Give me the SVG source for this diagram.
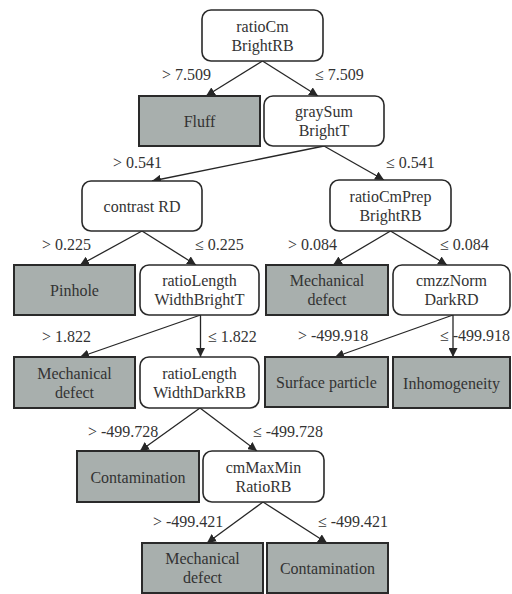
<svg xmlns="http://www.w3.org/2000/svg" width="512" height="594" viewBox="0 0 512 594">
  <defs>
    <marker id="arrow" viewBox="0 0 10 10" refX="10" refY="5" markerWidth="9" markerHeight="9" markerUnits="userSpaceOnUse" orient="auto">
      <path d="M0,0 L10,5 L0,10 z" fill="#262626"/>
    </marker>
    <style>
      .split rect { fill: #ffffff; stroke: #2a2a2a; stroke-width: 1.6; }
      .leaf rect { fill: #a8afad; stroke: #2a2a2a; stroke-width: 2; }
      text { font-family: "Times New Roman", Times, "Liberation Serif", "Nimbus Roman", "FreeSerif", "Noto Serif", "DejaVu Serif", serif; font-size: 16px; fill: #333333; }
      .node text { text-anchor: middle; }
      .end { text-anchor: end; }
      #connectors line { stroke: #262626; stroke-width: 1.3; marker-end: url(#arrow); }
    </style>
  </defs>
  <rect width="512" height="594" fill="#ffffff"/>

  <g id="connectors">
    <line x1="262.5" y1="61" x2="206" y2="96"/>
    <line x1="262.5" y1="61" x2="318" y2="96"/>
    <line x1="324" y1="146" x2="152" y2="181"/>
    <line x1="324" y1="146" x2="384" y2="180"/>
    <line x1="142" y1="231" x2="80" y2="265"/>
    <line x1="142" y1="231" x2="196" y2="265"/>
    <line x1="390.5" y1="231" x2="333" y2="265"/>
    <line x1="390.5" y1="231" x2="447" y2="265"/>
    <line x1="200.5" y1="315" x2="80" y2="357"/>
    <line x1="200.5" y1="315" x2="200.5" y2="357"/>
    <line x1="453" y1="315" x2="335" y2="357"/>
    <line x1="453" y1="315" x2="453" y2="357"/>
    <line x1="200" y1="408" x2="140" y2="451"/>
    <line x1="200" y1="408" x2="257" y2="451"/>
    <line x1="263" y1="502" x2="207" y2="543"/>
    <line x1="263" y1="502" x2="327" y2="543"/>
  </g>

  <g id="edge-labels">
    <text x="162" y="80">&gt; 7.509</text>
    <text x="315" y="80">≤ 7.509</text>
    <text x="113" y="168">&gt; 0.541</text>
    <text x="386" y="168">≤ 0.541</text>
    <text x="42" y="250">&gt; 0.225</text>
    <text x="195" y="250">≤ 0.225</text>
    <text x="288" y="250">&gt; 0.084</text>
    <text x="440" y="250">≤ 0.084</text>
    <text x="42" y="342">&gt; 1.822</text>
    <text x="208" y="342">≤ 1.822</text>
    <text x="298" y="341">&gt; -499.918</text>
    <text class="end" x="510" y="341">≤ -499.918</text>
    <text x="88" y="437">&gt; -499.728</text>
    <text x="253" y="437">≤ -499.728</text>
    <text x="153" y="527">&gt; -499.421</text>
    <text x="318" y="527">≤ -499.421</text>
  </g>

  <g id="n-ratioCmBrightRB" class="node split">
    <rect x="202" y="10" width="121" height="51" rx="9"/>
    <text x="262.5" y="31.5">ratioCm</text>
    <text x="262.5" y="50.5">BrightRB</text>
  </g>
  <g id="n-fluff" class="node leaf">
    <rect x="139" y="96" width="121" height="50"/>
    <text x="199.5" y="127">Fluff</text>
  </g>
  <g id="n-graySumBrightT" class="node split">
    <rect x="264" y="96" width="120" height="50" rx="9"/>
    <text x="324" y="117">graySum</text>
    <text x="324" y="136">BrightT</text>
  </g>
  <g id="n-contrastRD" class="node split">
    <rect x="82" y="181" width="120" height="50" rx="9"/>
    <text x="142" y="212">contrast RD</text>
  </g>
  <g id="n-ratioCmPrepBrightRB" class="node split">
    <rect x="330" y="180" width="121" height="51" rx="9"/>
    <text x="390.5" y="201.5">ratioCmPrep</text>
    <text x="390.5" y="220.5">BrightRB</text>
  </g>
  <g id="n-pinhole" class="node leaf">
    <rect x="14" y="265" width="121" height="50"/>
    <text x="74.5" y="296">Pinhole</text>
  </g>
  <g id="n-ratioLengthWidthBrightT" class="node split">
    <rect x="140" y="265" width="119" height="50" rx="9"/>
    <text x="199.5" y="286">ratioLength</text>
    <text x="199.5" y="305">WidthBrightT</text>
  </g>
  <g id="n-mechanical-1" class="node leaf">
    <rect x="266" y="265" width="122" height="50"/>
    <text x="327" y="286">Mechanical</text>
    <text x="327" y="305">defect</text>
  </g>
  <g id="n-cmzzNormDarkRD" class="node split">
    <rect x="393" y="265" width="117" height="50" rx="9"/>
    <text x="451.5" y="286">cmzzNorm</text>
    <text x="451.5" y="305">DarkRD</text>
  </g>
  <g id="n-mechanical-2" class="node leaf">
    <rect x="14" y="357" width="121" height="51"/>
    <text x="74.5" y="378.5">Mechanical</text>
    <text x="74.5" y="397.5">defect</text>
  </g>
  <g id="n-ratioLengthWidthDarkRB" class="node split">
    <rect x="140" y="357" width="119" height="51" rx="9"/>
    <text x="199.5" y="378.5">ratioLength</text>
    <text x="199.5" y="397.5">WidthDarkRB</text>
  </g>
  <g id="n-surface-particle" class="node leaf">
    <rect x="265" y="357" width="123" height="50"/>
    <text x="326.5" y="388">Surface particle</text>
  </g>
  <g id="n-inhomogeneity" class="node leaf">
    <rect x="393" y="357" width="117" height="51"/>
    <text x="451.5" y="388.5">Inhomogeneity</text>
  </g>
  <g id="n-contamination-1" class="node leaf">
    <rect x="77" y="451" width="122" height="51"/>
    <text x="138" y="482.5">Contamination</text>
  </g>
  <g id="n-cmMaxMinRatioRB" class="node split">
    <rect x="203" y="451" width="121" height="51" rx="9"/>
    <text x="263.5" y="472.5">cmMaxMin</text>
    <text x="263.5" y="491.5">RatioRB</text>
  </g>
  <g id="n-mechanical-3" class="node leaf">
    <rect x="142" y="543" width="121" height="50"/>
    <text x="202.5" y="564">Mechanical</text>
    <text x="202.5" y="583">defect</text>
  </g>
  <g id="n-contamination-2" class="node leaf">
    <rect x="267" y="543" width="121" height="50"/>
    <text x="327.5" y="574">Contamination</text>
  </g>
</svg>
